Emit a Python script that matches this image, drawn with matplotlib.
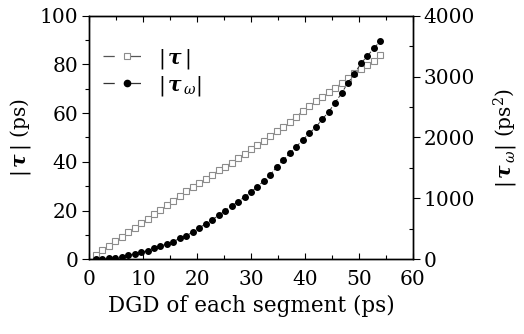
import numpy as np
import matplotlib
matplotlib.use("Agg")
import matplotlib.pyplot as plt
from matplotlib.lines import Line2D
from matplotlib.ticker import MultipleLocator

plt.rcParams['font.family'] = ['DejaVu Serif']
plt.rcParams['mathtext.fontset'] = 'dejavuserif'

dgd = [1.2, 2.4, 3.6, 4.8, 6.0, 7.2, 8.4, 9.6, 10.8, 12.0,
       13.2, 14.4, 15.6, 16.8, 18.0, 19.2, 20.4, 21.6, 22.8, 24.0,
       25.2, 26.4, 27.6, 28.8, 30.0, 31.2, 32.4, 33.6, 34.8, 36.0,
       37.2, 38.4, 39.6, 40.8, 42.0, 43.2, 44.4, 45.6, 46.8, 48.0,
       49.2, 50.4, 51.6, 52.8, 54.0]
tau = [1.6, 3.7, 5.6, 7.4, 9.2, 11.1, 13.0, 14.8, 16.5, 18.5,
       20.2, 22.2, 24.1, 25.9, 27.9, 29.7, 31.5, 33.1, 34.7, 36.5,
       38.0, 39.7, 41.5, 43.2, 45.2, 46.9, 48.7, 50.5, 52.5, 54.2,
       56.4, 58.6, 60.9, 62.9, 64.8, 66.7, 68.5, 70.4, 72.2, 74.3,
       76.3, 78.0, 79.8, 81.5, 83.7]
tau_w = [2, 7, 16, 28, 44, 64, 87, 113, 143, 180,
         214, 255, 292, 345, 388, 448, 519, 580, 650, 722,
         798, 875, 946, 1023, 1105, 1192, 1290, 1389, 1520, 1630,
         1740, 1849, 1959, 2068, 2167, 2299, 2419, 2571, 2726, 2900,
         3048, 3218, 3338, 3465, 3585]

gray = '#8c8c8c'
fig = plt.figure(figsize=(5.24, 3.34), dpi=100)
ax = fig.add_axes([0.1704, 0.2237, 0.6172, 0.7293])
ax2 = ax.twinx()

ax.plot(dgd, tau, linestyle=(0, (3, 2)), color=gray, linewidth=0.7,
        marker='s', markersize=3.9, markerfacecolor='white',
        markeredgecolor=gray, markeredgewidth=0.8, zorder=3)
ax2.plot(dgd, tau_w, linestyle=(0, (3, 2)), color='#333333', linewidth=0.7,
         marker='o', markersize=4.0, markerfacecolor='black',
         markeredgecolor='black', zorder=3)

ax.set_xlim(0, 60)
ax.set_ylim(0, 100)
ax2.set_ylim(0, 4000)
ax.xaxis.set_major_locator(MultipleLocator(10))
ax.xaxis.set_minor_locator(MultipleLocator(5))
ax.yaxis.set_major_locator(MultipleLocator(20))
ax.yaxis.set_minor_locator(MultipleLocator(10))
ax2.yaxis.set_major_locator(MultipleLocator(1000))
ax2.yaxis.set_minor_locator(MultipleLocator(500))

fs = 14.5
ax.tick_params(axis='x', which='both', direction='in', top=True, labelsize=fs, pad=8)
ax.tick_params(axis='x', which='major', length=4, width=0.8)
ax.tick_params(axis='x', which='minor', length=3, width=0.8)
ax.tick_params(axis='y', which='both', direction='out', labelsize=fs, pad=3)
ax.tick_params(axis='y', which='major', length=5, width=0.8)
ax.tick_params(axis='y', which='minor', length=3, width=0.8)
ax2.tick_params(axis='y', which='major', direction='out', length=5, width=0.8, labelsize=fs, pad=3)
ax2.tick_params(axis='y', which='minor', direction='in', length=3, width=0.8)

for a in (ax, ax2):
    for s in a.spines.values():
        s.set_linewidth(1.0)

ax.set_xlabel('DGD of each segment (ps)', fontsize=15.5, labelpad=4)
ax.set_ylabel(r'$|\,\boldsymbol{\tau}\,|$ (ps)', fontsize=fs, labelpad=5)
ax2.set_ylabel(r'$|\,\boldsymbol{\tau}_{\,\omega}|$ (ps$^{2}$)', fontsize=fs, labelpad=12)

h1 = Line2D([], [], linestyle=(0, (9, 12)), color='#555555', linewidth=0.9,
            marker='s', markersize=3.9, markerfacecolor='white',
            markeredgecolor=gray, markeredgewidth=0.8)
h2 = Line2D([], [], linestyle=(0, (9, 12)), color='#333333', linewidth=0.9,
            marker='o', markersize=4.5, markerfacecolor='black', markeredgecolor='black')
ax.legend([h1, h2], [r'$|\,\boldsymbol{\tau}\,|$', r'$|\,\boldsymbol{\tau}_{\,\omega}|$'],
          loc='upper left', bbox_to_anchor=(0.0, 0.93), frameon=False, fontsize=fs,
          handlelength=2.3, handletextpad=0.4, labelspacing=0.15, borderaxespad=0.3)

fig.savefig('out.png', dpi=100)
